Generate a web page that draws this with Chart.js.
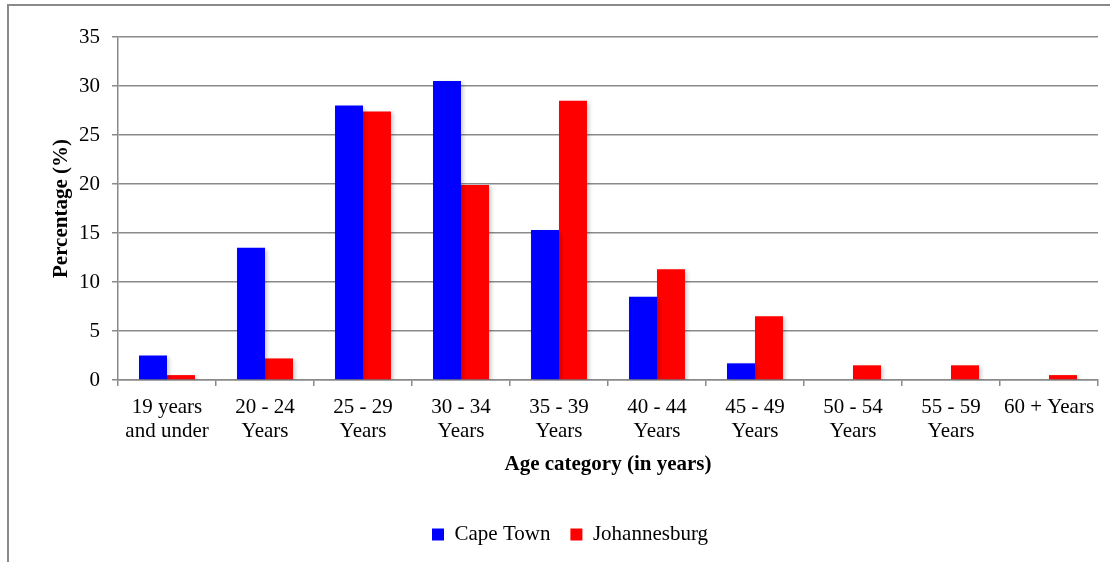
<!DOCTYPE html>
<html>
<head>
<meta charset="utf-8">
<script src="https://cdn.jsdelivr.net/npm/chart.js@4/dist/chart.umd.min.js"></script>
<style>
  html, body { margin: 0; padding: 0; background: #fff; }
  #wrap { position: relative; width: 1110px; height: 562px; overflow: hidden; }
  #frame { position: absolute; left: 7px; top: 4px; width: 1102px; height: 600px;
           border-left: 2px solid #8a8a8a; border-top: 2px solid #8a8a8a; }
  canvas { position: absolute; left: 0; top: 0; }
</style>
</head>
<body>
<div id="wrap">
  <div id="frame"></div>
  <canvas id="chart" width="1110" height="562"></canvas>
</div>
<script>
// age groups (two-line tick labels)
const categories = [
  ['19 years', 'and under'],
  ['20 - 24', 'Years'],
  ['25 - 29', 'Years'],
  ['30 - 34', 'Years'],
  ['35 - 39', 'Years'],
  ['40 - 44', 'Years'],
  ['45 - 49', 'Years'],
  ['50 - 54', 'Years'],
  ['55 - 59', 'Years'],
  ['60 + Years'],
];
const capeTown     = [2.5, 13.5, 28.0, 30.5, 15.3, 8.5, 1.7, 0, 0, 0];
const johannesburg = [0.5, 2.2, 27.4, 19.9, 28.5, 11.3, 6.5, 1.5, 1.5, 0.5];
const yTicks = [0, 5, 10, 15, 20, 25, 30, 35];

const FONT = 'Liberation Serif, Times New Roman, serif';
const GRID = '#8a8a8a';

// faint drop shadow behind the bars, like the Excel original
const barShadow = {
  id: 'barShadow',
  beforeDatasetsDraw(chart) {
    const c = chart.ctx;
    c.save();
    c.shadowColor = 'rgba(0,0,0,0.22)';
    c.shadowBlur = 4;
    c.shadowOffsetX = 2;
    c.shadowOffsetY = 2;
  },
  afterDatasetsDraw(chart) {
    chart.ctx.restore();
  },
};

new Chart(document.getElementById('chart'), {
  type: 'bar',
  data: {
    labels: categories,
    datasets: [
      { label: 'Cape Town', data: capeTown, backgroundColor: '#0000ff' },
      { label: 'Johannesburg', data: johannesburg, backgroundColor: '#ff0000' },
    ],
  },
  options: {
    responsive: false,
    animation: false,
    layout: { padding: { left: 42, right: 12, top: 37, bottom: 7 } },
    datasets: { bar: { barPercentage: 1, categoryPercentage: 0.571 } },
    plugins: {
      tooltip: { enabled: false },
      legend: {
        position: 'bottom',
        labels: {
          color: '#000',
          font: { family: FONT, size: 21 },
          boxWidth: 12,
          boxHeight: 12,
          padding: 20,
        },
      },
    },
    scales: {
      x: {
        grid: { drawOnChartArea: false, color: GRID, lineWidth: 1.5, tickLength: 6, offset: true },
        border: { color: GRID, width: 1.5 },
        ticks: {
          color: '#000',
          font: { family: FONT, size: 21, lineHeight: 1.14 },
          padding: 10,
          maxRotation: 0,
          autoSkip: false,
        },
        title: {
          display: true,
          text: 'Age category (in years)',
          color: '#000',
          font: { family: FONT, size: 21, weight: 'bold' },
          padding: { top: 0, bottom: 27 },
        },
        afterFit(scale) { scale.height = 124; },
      },
      y: {
        min: 0,
        max: 35,
        afterBuildTicks(scale) { scale.ticks = yTicks.map(v => ({ value: v })); },
        grid: { color: GRID, lineWidth: 1.5, tickLength: 6 },
        border: { color: GRID, width: 1.5 },
        ticks: {
          color: '#000',
          font: { family: FONT, size: 21 },
          padding: 12,
        },
        title: {
          display: true,
          text: 'Percentage (%)',
          color: '#000',
          font: { family: FONT, size: 21, weight: 'bold' },
          padding: { top: 7, bottom: 0 },
        },
        afterFit(scale) { scale.width = 76; },
      },
    },
  },
  plugins: [barShadow],
});
</script>
</body>
</html>
